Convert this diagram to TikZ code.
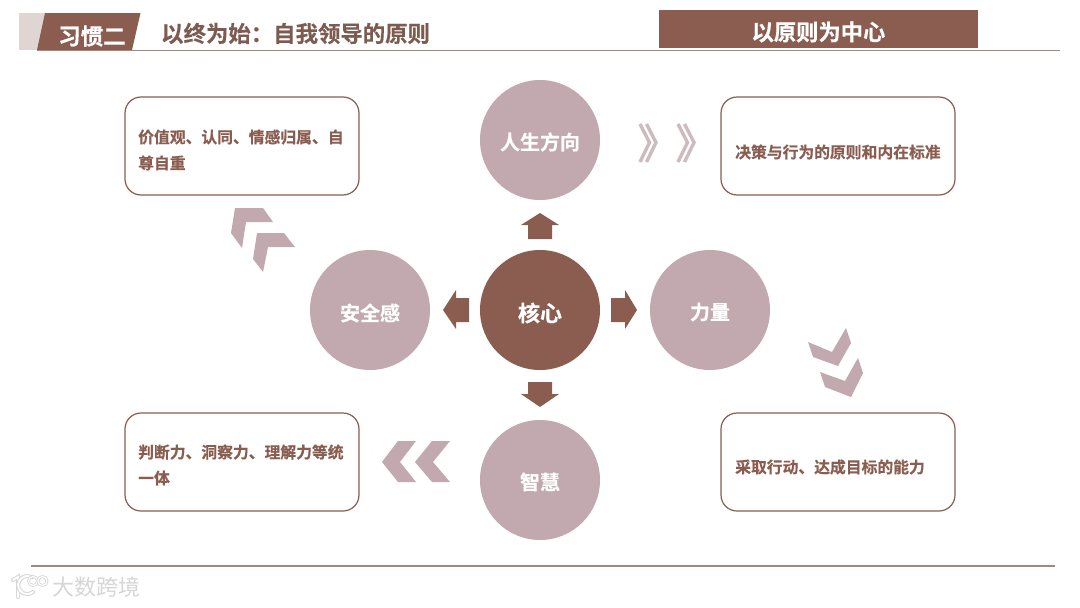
\documentclass[tikz,border=0pt]{standalone}
\usepackage{fontspec}
\setmainfont{Noto Sans CJK SC}[BoldFont={Noto Sans CJK SC Bold},BoldFeatures={FakeBold=0.35}]
\definecolor{brn}{HTML}{8A5D50}
\definecolor{pnk}{HTML}{C2A9AF}
\definecolor{pnkl}{HTML}{CDBBC0}
\definecolor{hdr}{HTML}{7E5B50}
\definecolor{rule}{HTML}{A08883}
\definecolor{wm}{HTML}{D6D6D6}
\tikzset{
  disc/.style={circle,minimum size=120pt,inner sep=0pt,fill=pnk},
  disctext/.style={inner sep=0pt,text=white,font=\fontsize{20}{24}\selectfont\bfseries},
  note/.style={draw=brn,line width=1.2pt,rounded corners=16pt,minimum width=234pt,minimum height=98pt,fill=white,inner sep=0pt},
  notetext/.style={anchor=west,align=left,inner sep=0pt,text=brn,font=\fontsize{15.8}{26}\selectfont\bfseries},
  blockarrow/.style={fill=brn},
  chev/.style={fill=pnk},
  thinchev/.style={draw=pnkl,line width=3.4pt,line join=miter},
  plain/.style={inner sep=0pt},
  logo/.style={draw=wm,double=white,line cap=round}
}
\begin{document}
\begin{tikzpicture}[x=1pt,y=-1pt]
\useasboundingbox (0,0) rectangle (1080,608);
\fill[white] (0,0) rectangle (1080,608);
% header
\fill[hdr!25!white] (19,13) rectangle (46,50);
\fill[brn] (45,13) -- (140.5,13) -- (132,50) -- (37,50) -- cycle;
\draw[rule,line width=1.3pt] (37,50.7) -- (1060,50.7);
\node[plain,text=white,font=\fontsize{22.5}{26}\selectfont\bfseries] (habit) at (92,36) {习惯二};
\node[plain,anchor=west,text=hdr,font=\fontsize{22.4}{26}\selectfont\bfseries] (title) at (161,33.5) {以终为始\char"FF1A 自我领导的原则};
\node[plain,fill=brn,minimum width=319pt,minimum height=38pt] (band) at (818.5,29) {};
\node[plain,text=white,font=\fontsize{22.3}{26}\selectfont\bfseries] (bandtext) at (818.5,32) {以原则为中心};
% discs
\node[disc,fill=brn] (core) at (540,310) {};
\node[disc] (dir) at (540,140) {};
\node[disc] (safe) at (370,310) {};
\node[disc] (power) at (710,310) {};
\node[disc] (wisdom) at (540,480) {};
\node[disctext,font=\fontsize{22}{26}\selectfont\bfseries] (coret) at (540,313) {核心};
\node[disctext] (dirt) at (540,142) {人生方向};
\node[disctext] (safet) at (370,313) {安全感};
\node[disctext] (powert) at (710,312) {力量};
\node[disctext] (wisdomt) at (540,482) {智慧};
% block arrows
\fill[blockarrow] (540,213) -- (559,225) -- (552,225) -- (552,239) -- (528,239) -- (528,225) -- (521,225) -- cycle;
\fill[blockarrow] (540,407) -- (559,394) -- (552,394) -- (552,382) -- (528,382) -- (528,394) -- (521,394) -- cycle;
\fill[blockarrow] (443,310) -- (456,290) -- (456,298) -- (469,298) -- (469,322) -- (456,322) -- (456,329) -- cycle;
\fill[blockarrow] (637,310) -- (625,290) -- (625,298) -- (611,298) -- (611,322) -- (625,322) -- (625,329) -- cycle;
% notes
\node[note] (n1) at (242,146) {};
\node[note] (n2) at (838,146) {};
\node[note] (n3) at (242,462) {};
\node[note] (n4) at (838,462) {};
\node[notetext] (t1) at (138,150) {价值观、认同、情感归属、自\\尊自重};
\node[notetext] (t2) at (735,152) {决策与行为的原则和内在标准};
\node[notetext] (t3) at (138,465) {判断力、洞察力、理解力等统\\一体};
\node[notetext] (t4) at (735,467) {采取行动、达成目标的能力};
% chevrons upper left
\fill[chev] (235,208) -- (263,208) -- (273,222) -- (246,222) -- (242,248) -- (231,233) -- cycle;
\fill[chev] (257,233) -- (284,233) -- (295,247) -- (268,247) -- (263,272) -- (253,259) -- cycle;
% chevrons lower right
\fill[chev] (808,342) -- (832,352) -- (846,328) -- (851,343) -- (838,366) -- (813,357) -- cycle;
\fill[chev] (820,372) -- (845,381) -- (858,358) -- (863,373) -- (851,397) -- (825,387) -- cycle;
% chevrons left
\fill[chev] (398,441) -- (416,441) -- (400,462) -- (416,482) -- (398,482) -- (382,462) -- cycle;
\fill[chev] (432,441) -- (450,441) -- (433,462) -- (450,482) -- (432,482) -- (415,462) -- cycle;
% thin chevrons right
\draw[thinchev] (640,124) -- (649.5,142.5) -- (640,162);
\draw[thinchev] (646.5,124) -- (656,142.5) -- (646.5,162);
\draw[thinchev] (678,124) -- (687.5,142.5) -- (678,162);
\draw[thinchev] (684.5,124) -- (694,142.5) -- (684.5,162);
% footer
\draw[rule,line width=1.3pt] (31,566) -- (1055,566);
\node[plain,anchor=west,text=wm,font=\fontsize{22}{26}\selectfont] (mark) at (52,587.5) {大数跨境};
\draw[logo,line width=1pt,double distance=2pt] (13,580) -- (18,577) -- (18,597);
\draw[logo,line width=1pt,double distance=2pt] (33,592) arc[start angle=50,end angle=300,radius=9];
\draw[logo,line width=0.8pt,double distance=1.2pt] (33,581) circle[radius=4.5];
\draw[logo,line width=0.8pt,double distance=1.2pt] (42.5,581) circle[radius=4.5];
\end{tikzpicture}
\end{document}
